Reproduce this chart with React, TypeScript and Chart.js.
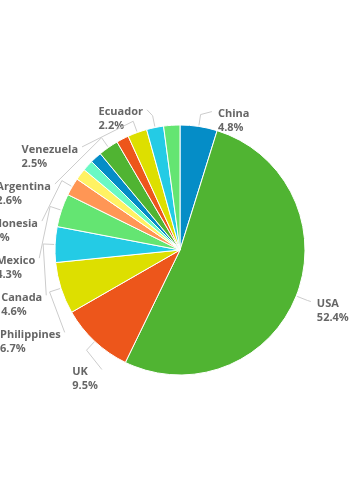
import React, { useEffect, useRef } from 'react';
import { Chart, registerables } from 'chart.js';

Chart.register(...registerables);

const countries = [
  'China', 'USA', 'UK', 'Philippines', 'Canada', 'Mexico', 'Indonesia',
  'India', 'Colombia', 'Peru', 'Argentina', 'Chile', 'Venezuela', 'Ecuador', 'Brazil',
];
const shares = [4.8, 52.4, 9.5, 6.7, 4.6, 4.3, 2.3, 1.5, 1.4, 1.5, 2.6, 1.6, 2.5, 2.2, 2.1];
const palette = ['#058DC7', '#50B432', '#ED561B', '#DDDF00', '#24CBE5', '#64E572', '#FF9655', '#FFF263', '#6AF9C4'];

const LABEL_FONT = 'bold 11px "Open Sans", "DejaVu Sans", sans-serif';
const LABEL_COLOR = '#666666';
const CONNECTOR_COLOR = '#cccccc';
const SPACING = 37.1;
const LINE_GAP = 14;

type Item = { i: number; mid: number; left: boolean; natural: number; value: number; y: number };

const labelPlugin = {
  id: 'pieLabels',
  afterDatasetsDraw(chart: any) {
    const meta = chart.getDatasetMeta(0);
    const arcs = meta.data;
    if (!arcs.length) return;
    const p0 = arcs[0].getProps(['x', 'y', 'outerRadius'], true);
    const cx = p0.x, cy = p0.y, r = p0.outerRadius;
    const total = shares.reduce((a, b) => a + b, 0);
    const items: Item[] = arcs.map((arc: any, i: number) => {
      const { startAngle, endAngle } = arc.getProps(['startAngle', 'endAngle'], true);
      const mid = (startAngle + endAngle) / 2;
      return {
        i,
        mid,
        left: Math.cos(mid) < 0,
        natural: cy + Math.sin(mid) * (r + 15),
        value: shares[i],
        y: 0,
      };
    });
    const top = cy - r - 17;
    const bottom = cy + r - 5.5;
    const maxCount = Math.floor((bottom - top) / SPACING) + 1;
    const ctx = chart.ctx;
    ctx.save();
    ctx.font = LABEL_FONT;
    ctx.textBaseline = 'middle';
    ctx.textAlign = 'left';

    [true, false].forEach((side) => {
      const R = side ? r + 20 : r + 17.5;
      let group = items.filter((it) => it.left === side);
      group = [...group].sort((a, b) => b.value - a.value).slice(0, maxCount);
      group.sort((a, b) => a.natural - b.natural);
      group.forEach((it, k) => {
        let y = Math.min(Math.max(it.natural, top), bottom);
        if (k > 0) y = Math.max(y, group[k - 1].y + SPACING);
        it.y = y;
      });
      for (let k = group.length - 1; k >= 0; k--) {
        let y = Math.min(group[k].y, bottom);
        if (k < group.length - 1) y = Math.min(y, group[k + 1].y - SPACING);
        group[k].y = y;
      }
      group.forEach((it) => {
        const dy = it.y - cy;
        const dx = Math.sqrt(Math.max(R * R - dy * dy, 0));
        const edge = side ? cx - dx : cx + dx;
        const line1 = countries[it.i];
        const line2 = ((shares[it.i] / total) * 100).toFixed(1) + '%';
        const w = Math.max(ctx.measureText(line1).width, ctx.measureText(line2).width);
        const textX = side ? edge - w : edge + 4;
        const crookR = r + 12;
        const endR = r + 1;
        const startX = side ? edge + 4 : edge - 2;
        ctx.beginPath();
        ctx.strokeStyle = CONNECTOR_COLOR;
        ctx.lineWidth = 1;
        ctx.moveTo(startX, it.y);
        ctx.lineTo(cx + Math.cos(it.mid) * crookR, cy + Math.sin(it.mid) * crookR);
        ctx.lineTo(cx + Math.cos(it.mid) * endR, cy + Math.sin(it.mid) * endR);
        ctx.stroke();
        ctx.fillStyle = LABEL_COLOR;
        ctx.fillText(line1, textX, it.y + 2.5);
        ctx.fillText(line2, textX, it.y + 2.5 + LINE_GAP);
      });
    });
    ctx.restore();
  },
};

export default function App() {
  const ref = useRef<HTMLCanvasElement>(null);
  useEffect(() => {
    const chart = new Chart(ref.current as HTMLCanvasElement, {
      type: 'pie',
      data: {
        labels: countries,
        datasets: [
          {
            data: shares,
            backgroundColor: countries.map((_, i) => palette[i % palette.length]),
            borderColor: '#ffffff',
            borderWidth: 1,
          },
        ],
      },
      options: {
        responsive: true,
        maintainAspectRatio: false,
        animation: false,
        layout: { padding: { left: 54.5, right: 54.5, top: 124.5, bottom: 124.5 } },
        plugins: { legend: { display: false }, tooltip: { enabled: false } },
      },
      plugins: [labelPlugin],
    } as any);
    return () => chart.destroy();
  }, []);
  return (
    <div style={{ position: 'fixed', left: 0, top: 0, width: 360, height: 500, background: '#ffffff' }}>
      <canvas ref={ref} />
    </div>
  );
}
